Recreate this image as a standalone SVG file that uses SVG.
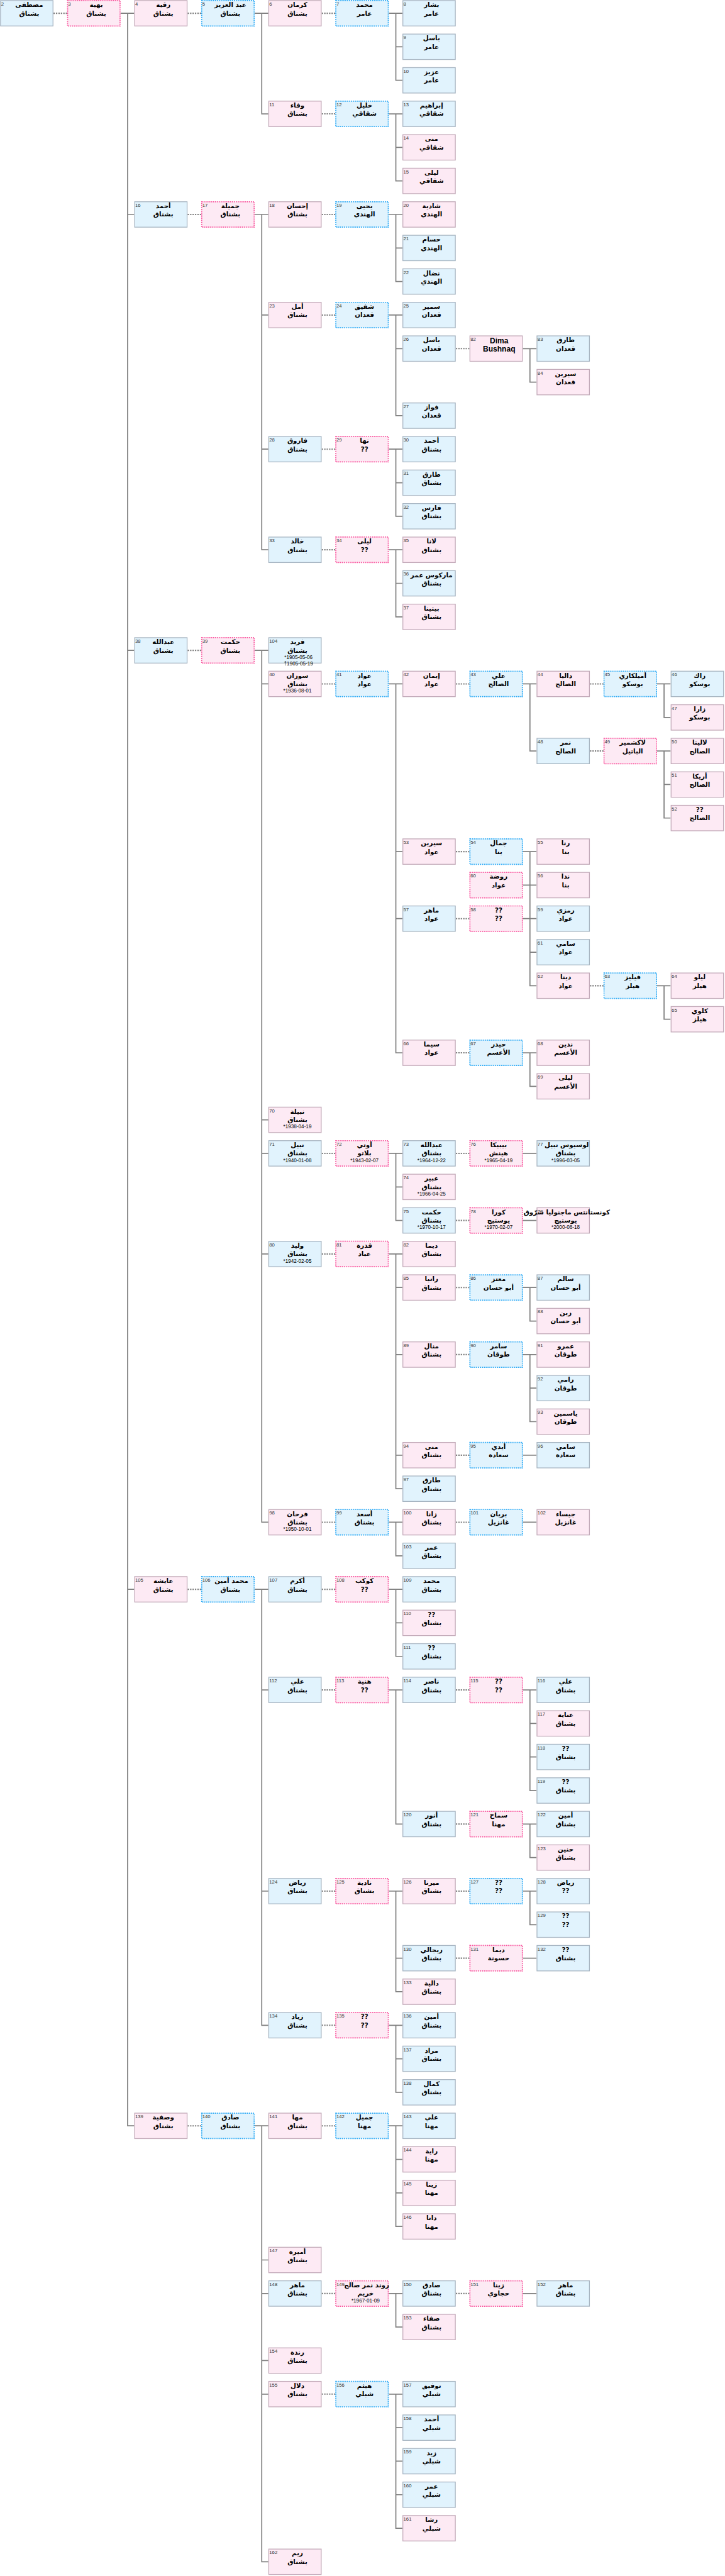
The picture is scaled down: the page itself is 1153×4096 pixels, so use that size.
<svg xmlns="http://www.w3.org/2000/svg" width="1153" height="4096" viewBox="0 0 1153 4096">
<defs>
<style>
.b{fill:#e1f3fd;stroke:#a7b5c2;stroke-width:1.5}
.p{fill:#fdeaf4;stroke:#c3aab9;stroke-width:1.5}
.bd{fill:#e1f3fd;stroke:#2aa9f5;stroke-width:2;stroke-dasharray:2 1.5}
.pd{fill:#fdeaf4;stroke:#f9579f;stroke-width:2;stroke-dasharray:2 1.5}
.ln{fill:none;stroke:#808080;stroke-width:2}
.sp{fill:none;stroke:#808080;stroke-width:2.5;stroke-dasharray:2.5 2}
.id{font-family:"Liberation Sans",sans-serif;font-size:9px;fill:#333}
.nm{font-family:"DejaVu Sans","Liberation Sans",sans-serif;font-weight:bold;font-size:12px;text-anchor:middle;fill:#000}
.en{font-family:"Liberation Sans",sans-serif;font-weight:bold;font-size:14px;text-anchor:middle;fill:#000}
.dt{font-family:"Liberation Sans","DejaVu Sans",sans-serif;font-size:9.5px;text-anchor:middle;fill:#000}
</style>
</defs>
<rect width="1153" height="4096" fill="#fff"/>
<g transform="scale(0.86)">
<g id="connectors">
<path class="sp" d="M99 24.5H124M347 24.5H372M595 24.5H620M595 210.5H620M347 396.5H372M595 396.5H620M595 582.5H620M843 644.5H868M595 830.5H620M595 1016.5H620M347 1202.5H372M595 1264.5H620M843 1264.5H868M1091 1264.5H1116M1091 1388.5H1116M843 1574.5H868M843 1698.5H868M1091 1822.5H1116M843 1946.5H868M595 2132.5H620M843 2132.5H868M843 2256.5H868M595 2318.5H620M843 2380.5H868M843 2504.5H868M843 2690.5H868M595 2814.5H620M843 2814.5H868M347 2938.5H372M595 2938.5H620M595 3124.5H620M843 3124.5H868M843 3372.5H868M595 3496.5H620M843 3496.5H868M843 3620.5H868M595 3744.5H620M347 3930.5H372M595 3930.5H620M595 4240.5H620M843 4240.5H868M595 4426.5H620"/>
<path class="ln" d="M223 24.5H248M236 24.5V3930.5H248M236 396.5H248M236 1202.5H248M236 2938.5H248"/>
<path class="ln" d="M471 24.5H496M484 24.5V210.5H496"/>
<path class="ln" d="M719 24.5H744M732 24.5V148.5H744M732 86.5H744"/>
<path class="ln" d="M719 210.5H744M732 210.5V334.5H744M732 272.5H744"/>
<path class="ln" d="M471 396.5H496M484 396.5V1016.5H496M484 582.5H496M484 830.5H496"/>
<path class="ln" d="M719 396.5H744M732 396.5V520.5H744M732 458.5H744"/>
<path class="ln" d="M719 582.5H744M732 582.5V768.5H744M732 644.5H744"/>
<path class="ln" d="M967 644.5H992M980 644.5V706.5H992"/>
<path class="ln" d="M719 830.5H744M732 830.5V954.5H744M732 892.5H744"/>
<path class="ln" d="M719 1016.5H744M732 1016.5V1140.5H744M732 1078.5H744"/>
<path class="ln" d="M471 1202.5H496M484 1202.5V2814.5H496M484 1264.5H496M484 2070.5H496M484 2132.5H496M484 2318.5H496"/>
<path class="ln" d="M719 1264.5H744M732 1264.5V1946.5H744M732 1574.5H744M732 1698.5H744"/>
<path class="ln" d="M967 1264.5H992M980 1264.5V1388.5H992"/>
<path class="ln" d="M1215 1264.5H1240M1228 1264.5V1326.5H1240"/>
<path class="ln" d="M1215 1388.5H1240M1228 1388.5V1512.5H1240M1228 1450.5H1240"/>
<path class="ln" d="M967 1574.5H992M980 1574.5V1822.5H992M967 1636.5H992M967 1698.5H992M980 1760.5H992"/>
<path class="ln" d="M1215 1822.5H1240M1228 1822.5V1884.5H1240"/>
<path class="ln" d="M967 1946.5H992M980 1946.5V2008.5H992"/>
<path class="ln" d="M719 2132.5H744M732 2132.5V2256.5H744M732 2194.5H744"/>
<path class="ln" d="M967 2132.5H992M967 2256.5H992"/>
<path class="ln" d="M719 2318.5H744M732 2318.5V2752.5H744M732 2380.5H744M732 2504.5H744M732 2690.5H744"/>
<path class="ln" d="M967 2380.5H992M980 2380.5V2442.5H992"/>
<path class="ln" d="M967 2504.5H992M980 2504.5V2628.5H992M980 2566.5H992"/>
<path class="ln" d="M967 2690.5H992"/>
<path class="ln" d="M719 2814.5H744M732 2814.5V2876.5H744M967 2814.5H992"/>
<path class="ln" d="M471 2938.5H496M484 2938.5V3744.5H496M484 3124.5H496M484 3496.5H496"/>
<path class="ln" d="M719 2938.5H744M732 2938.5V3062.5H744M732 3000.5H744"/>
<path class="ln" d="M719 3124.5H744M732 3124.5V3372.5H744"/>
<path class="ln" d="M967 3124.5H992M980 3124.5V3310.5H992M980 3186.5H992M980 3248.5H992"/>
<path class="ln" d="M967 3372.5H992M980 3372.5V3434.5H992"/>
<path class="ln" d="M719 3496.5H744M732 3496.5V3682.5H744M732 3620.5H744"/>
<path class="ln" d="M967 3496.5H992M980 3496.5V3558.5H992M967 3620.5H992"/>
<path class="ln" d="M719 3744.5H744M732 3744.5V3868.5H744M732 3806.5H744"/>
<path class="ln" d="M471 3930.5H496M484 3930.5V4736.5H496M484 4178.5H496M484 4240.5H496M484 4364.5H496M484 4426.5H496"/>
<path class="ln" d="M719 3930.5H744M732 3930.5V4116.5H744M732 3992.5H744M732 4054.5H744"/>
<path class="ln" d="M719 4240.5H744M732 4240.5V4302.5H744M967 4240.5H992"/>
<path class="ln" d="M719 4426.5H744M732 4426.5V4674.5H744M732 4488.5H744M732 4550.5H744M732 4612.5H744"/>
</g>
<g id="n2" transform="translate(0,0)"><rect class="b" x="1" y="1" width="97" height="47"/><text class="id" x="2" y="10.5">2</text><text class="nm" x="54" y="13">مصطفى</text><text class="nm" x="54" y="28.5">بشناق</text></g>
<g id="n3" transform="translate(124,0)"><rect class="pd" x="1" y="1" width="97" height="47"/><text class="id" x="2" y="10.5">3</text><text class="nm" x="54" y="13">بهية</text><text class="nm" x="54" y="28.5">بشناق</text></g>
<g id="n4" transform="translate(248,0)"><rect class="p" x="1" y="1" width="97" height="47"/><text class="id" x="2" y="10.5">4</text><text class="nm" x="54" y="13">رقية</text><text class="nm" x="54" y="28.5">بشناق</text></g>
<g id="n5" transform="translate(372,0)"><rect class="bd" x="1" y="1" width="97" height="47"/><text class="id" x="2" y="10.5">5</text><text class="nm" x="54" y="13">عبد العزيز</text><text class="nm" x="54" y="28.5">بشناق</text></g>
<g id="n6" transform="translate(496,0)"><rect class="p" x="1" y="1" width="97" height="47"/><text class="id" x="2" y="10.5">6</text><text class="nm" x="54" y="13">كرمان</text><text class="nm" x="54" y="28.5">بشناق</text></g>
<g id="n7" transform="translate(620,0)"><rect class="bd" x="1" y="1" width="97" height="47"/><text class="id" x="2" y="10.5">7</text><text class="nm" x="54" y="13">محمد</text><text class="nm" x="54" y="28.5">عامر</text></g>
<g id="n8" transform="translate(744,0)"><rect class="b" x="1" y="1" width="97" height="47"/><text class="id" x="2" y="10.5">8</text><text class="nm" x="54" y="13">بشار</text><text class="nm" x="54" y="28.5">عامر</text></g>
<g id="n9" transform="translate(744,62)"><rect class="b" x="1" y="1" width="97" height="47"/><text class="id" x="2" y="10.5">9</text><text class="nm" x="54" y="13">باسل</text><text class="nm" x="54" y="28.5">عامر</text></g>
<g id="n10" transform="translate(744,124)"><rect class="b" x="1" y="1" width="97" height="47"/><text class="id" x="2" y="10.5">10</text><text class="nm" x="54" y="13">عزيز</text><text class="nm" x="54" y="28.5">عامر</text></g>
<g id="n11" transform="translate(496,186)"><rect class="p" x="1" y="1" width="97" height="47"/><text class="id" x="2" y="10.5">11</text><text class="nm" x="54" y="13">وفاء</text><text class="nm" x="54" y="28.5">بشناق</text></g>
<g id="n12" transform="translate(620,186)"><rect class="bd" x="1" y="1" width="97" height="47"/><text class="id" x="2" y="10.5">12</text><text class="nm" x="54" y="13">خليل</text><text class="nm" x="54" y="28.5">شقاقي</text></g>
<g id="n13" transform="translate(744,186)"><rect class="b" x="1" y="1" width="97" height="47"/><text class="id" x="2" y="10.5">13</text><text class="nm" x="54" y="13">إبراهيم</text><text class="nm" x="54" y="28.5">شقاقي</text></g>
<g id="n14" transform="translate(744,248)"><rect class="p" x="1" y="1" width="97" height="47"/><text class="id" x="2" y="10.5">14</text><text class="nm" x="54" y="13">منى</text><text class="nm" x="54" y="28.5">شقاقي</text></g>
<g id="n15" transform="translate(744,310)"><rect class="p" x="1" y="1" width="97" height="47"/><text class="id" x="2" y="10.5">15</text><text class="nm" x="54" y="13">ليلى</text><text class="nm" x="54" y="28.5">شقاقي</text></g>
<g id="n16" transform="translate(248,372)"><rect class="b" x="1" y="1" width="97" height="47"/><text class="id" x="2" y="10.5">16</text><text class="nm" x="54" y="13">أحمد</text><text class="nm" x="54" y="28.5">بشناق</text></g>
<g id="n17" transform="translate(372,372)"><rect class="pd" x="1" y="1" width="97" height="47"/><text class="id" x="2" y="10.5">17</text><text class="nm" x="54" y="13">جميلة</text><text class="nm" x="54" y="28.5">بشناق</text></g>
<g id="n18" transform="translate(496,372)"><rect class="p" x="1" y="1" width="97" height="47"/><text class="id" x="2" y="10.5">18</text><text class="nm" x="54" y="13">إحسان</text><text class="nm" x="54" y="28.5">بشناق</text></g>
<g id="n19" transform="translate(620,372)"><rect class="bd" x="1" y="1" width="97" height="47"/><text class="id" x="2" y="10.5">19</text><text class="nm" x="54" y="13">يحيى</text><text class="nm" x="54" y="28.5">الهندي</text></g>
<g id="n20" transform="translate(744,372)"><rect class="p" x="1" y="1" width="97" height="47"/><text class="id" x="2" y="10.5">20</text><text class="nm" x="54" y="13">شادية</text><text class="nm" x="54" y="28.5">الهندي</text></g>
<g id="n21" transform="translate(744,434)"><rect class="b" x="1" y="1" width="97" height="47"/><text class="id" x="2" y="10.5">21</text><text class="nm" x="54" y="13">حسام</text><text class="nm" x="54" y="28.5">الهندي</text></g>
<g id="n22" transform="translate(744,496)"><rect class="b" x="1" y="1" width="97" height="47"/><text class="id" x="2" y="10.5">22</text><text class="nm" x="54" y="13">نضال</text><text class="nm" x="54" y="28.5">الهندي</text></g>
<g id="n23" transform="translate(496,558)"><rect class="p" x="1" y="1" width="97" height="47"/><text class="id" x="2" y="10.5">23</text><text class="nm" x="54" y="13">أمل</text><text class="nm" x="54" y="28.5">بشناق</text></g>
<g id="n24" transform="translate(620,558)"><rect class="bd" x="1" y="1" width="97" height="47"/><text class="id" x="2" y="10.5">24</text><text class="nm" x="54" y="13">شفيق</text><text class="nm" x="54" y="28.5">قعدان</text></g>
<g id="n25" transform="translate(744,558)"><rect class="b" x="1" y="1" width="97" height="47"/><text class="id" x="2" y="10.5">25</text><text class="nm" x="54" y="13">سمير</text><text class="nm" x="54" y="28.5">قعدان</text></g>
<g id="n26" transform="translate(744,620)"><rect class="b" x="1" y="1" width="97" height="47"/><text class="id" x="2" y="10.5">26</text><text class="nm" x="54" y="13">باسل</text><text class="nm" x="54" y="28.5">قعدان</text></g>
<g id="n82-dima" transform="translate(868,620)"><rect class="p" x="1" y="1" width="97" height="47"/><text class="id" x="2" y="10.5">82</text><text class="en" x="55" y="15">Dima</text><text class="en" x="55" y="30">Bushnaq</text></g>
<g id="n83" transform="translate(992,620)"><rect class="b" x="1" y="1" width="97" height="47"/><text class="id" x="2" y="10.5">83</text><text class="nm" x="54" y="13">طارق</text><text class="nm" x="54" y="28.5">قعدان</text></g>
<g id="n84" transform="translate(992,682)"><rect class="p" x="1" y="1" width="97" height="47"/><text class="id" x="2" y="10.5">84</text><text class="nm" x="54" y="13">سيرين</text><text class="nm" x="54" y="28.5">قعدان</text></g>
<g id="n27" transform="translate(744,744)"><rect class="b" x="1" y="1" width="97" height="47"/><text class="id" x="2" y="10.5">27</text><text class="nm" x="54" y="13">فواز</text><text class="nm" x="54" y="28.5">قعدان</text></g>
<g id="n28" transform="translate(496,806)"><rect class="b" x="1" y="1" width="97" height="47"/><text class="id" x="2" y="10.5">28</text><text class="nm" x="54" y="13">فاروق</text><text class="nm" x="54" y="28.5">بشناق</text></g>
<g id="n29" transform="translate(620,806)"><rect class="pd" x="1" y="1" width="97" height="47"/><text class="id" x="2" y="10.5">29</text><text class="nm" x="54" y="13">نها</text><text class="nm" x="54" y="28.5">??</text></g>
<g id="n30" transform="translate(744,806)"><rect class="b" x="1" y="1" width="97" height="47"/><text class="id" x="2" y="10.5">30</text><text class="nm" x="54" y="13">أحمد</text><text class="nm" x="54" y="28.5">بشناق</text></g>
<g id="n31" transform="translate(744,868)"><rect class="b" x="1" y="1" width="97" height="47"/><text class="id" x="2" y="10.5">31</text><text class="nm" x="54" y="13">طارق</text><text class="nm" x="54" y="28.5">بشناق</text></g>
<g id="n32" transform="translate(744,930)"><rect class="b" x="1" y="1" width="97" height="47"/><text class="id" x="2" y="10.5">32</text><text class="nm" x="54" y="13">فارس</text><text class="nm" x="54" y="28.5">بشناق</text></g>
<g id="n33" transform="translate(496,992)"><rect class="b" x="1" y="1" width="97" height="47"/><text class="id" x="2" y="10.5">33</text><text class="nm" x="54" y="13">خالد</text><text class="nm" x="54" y="28.5">بشناق</text></g>
<g id="n34" transform="translate(620,992)"><rect class="pd" x="1" y="1" width="97" height="47"/><text class="id" x="2" y="10.5">34</text><text class="nm" x="54" y="13">ليلى</text><text class="nm" x="54" y="28.5">??</text></g>
<g id="n35" transform="translate(744,992)"><rect class="p" x="1" y="1" width="97" height="47"/><text class="id" x="2" y="10.5">35</text><text class="nm" x="54" y="13">لانا</text><text class="nm" x="54" y="28.5">بشناق</text></g>
<g id="n36" transform="translate(744,1054)"><rect class="b" x="1" y="1" width="97" height="47"/><text class="id" x="2" y="10.5">36</text><text class="nm" x="54" y="13">ماركوس عمر</text><text class="nm" x="54" y="28.5">بشناق</text></g>
<g id="n37" transform="translate(744,1116)"><rect class="p" x="1" y="1" width="97" height="47"/><text class="id" x="2" y="10.5">37</text><text class="nm" x="54" y="13">بيتينا</text><text class="nm" x="54" y="28.5">بشناق</text></g>
<g id="n38" transform="translate(248,1178)"><rect class="b" x="1" y="1" width="97" height="47"/><text class="id" x="2" y="10.5">38</text><text class="nm" x="54" y="13">عبدالله</text><text class="nm" x="54" y="28.5">بشناق</text></g>
<g id="n39" transform="translate(372,1178)"><rect class="pd" x="1" y="1" width="97" height="47"/><text class="id" x="2" y="10.5">39</text><text class="nm" x="54" y="13">حكمت</text><text class="nm" x="54" y="28.5">بشناق</text></g>
<g id="n104" transform="translate(496,1178)"><rect class="b" x="1" y="1" width="97" height="47"/><text class="id" x="2" y="10.5">104</text><text class="nm" x="54" y="13">فريد</text><text class="nm" x="54" y="28.5">بشناق</text><text class="dt" x="56" y="40.5">*1905-05-06</text><text class="dt" x="56" y="52">†1905-05-19</text></g>
<g id="n40" transform="translate(496,1240)"><rect class="p" x="1" y="1" width="97" height="47"/><text class="id" x="2" y="10.5">40</text><text class="nm" x="54" y="13">سوزان</text><text class="nm" x="54" y="28.5">بشناق</text><text class="dt" x="54" y="40.5">*1936-08-01</text></g>
<g id="n41" transform="translate(620,1240)"><rect class="bd" x="1" y="1" width="97" height="47"/><text class="id" x="2" y="10.5">41</text><text class="nm" x="54" y="13">عواد</text><text class="nm" x="54" y="28.5">عواد</text></g>
<g id="n42" transform="translate(744,1240)"><rect class="p" x="1" y="1" width="97" height="47"/><text class="id" x="2" y="10.5">42</text><text class="nm" x="54" y="13">إيمان</text><text class="nm" x="54" y="28.5">عواد</text></g>
<g id="n43" transform="translate(868,1240)"><rect class="bd" x="1" y="1" width="97" height="47"/><text class="id" x="2" y="10.5">43</text><text class="nm" x="54" y="13">علي</text><text class="nm" x="54" y="28.5">الصالح</text></g>
<g id="n44" transform="translate(992,1240)"><rect class="p" x="1" y="1" width="97" height="47"/><text class="id" x="2" y="10.5">44</text><text class="nm" x="54" y="13">داليا</text><text class="nm" x="54" y="28.5">الصالح</text></g>
<g id="n45" transform="translate(1116,1240)"><rect class="bd" x="1" y="1" width="97" height="47"/><text class="id" x="2" y="10.5">45</text><text class="nm" x="54" y="13">أميلكاري</text><text class="nm" x="54" y="28.5">بوسكو</text></g>
<g id="n46" transform="translate(1240,1240)"><rect class="b" x="1" y="1" width="97" height="47"/><text class="id" x="2" y="10.5">46</text><text class="nm" x="54" y="13">زاك</text><text class="nm" x="54" y="28.5">بوسكو</text></g>
<g id="n47" transform="translate(1240,1302)"><rect class="p" x="1" y="1" width="97" height="47"/><text class="id" x="2" y="10.5">47</text><text class="nm" x="54" y="13">زارا</text><text class="nm" x="54" y="28.5">بوسكو</text></g>
<g id="n48" transform="translate(992,1364)"><rect class="b" x="1" y="1" width="97" height="47"/><text class="id" x="2" y="10.5">48</text><text class="nm" x="54" y="13">نمر</text><text class="nm" x="54" y="28.5">الصالح</text></g>
<g id="n49" transform="translate(1116,1364)"><rect class="pd" x="1" y="1" width="97" height="47"/><text class="id" x="2" y="10.5">49</text><text class="nm" x="54" y="13">لاكشمير</text><text class="nm" x="54" y="28.5">الباتيل</text></g>
<g id="n50" transform="translate(1240,1364)"><rect class="p" x="1" y="1" width="97" height="47"/><text class="id" x="2" y="10.5">50</text><text class="nm" x="54" y="13">لاليتا</text><text class="nm" x="54" y="28.5">الصالح</text></g>
<g id="n51" transform="translate(1240,1426)"><rect class="p" x="1" y="1" width="97" height="47"/><text class="id" x="2" y="10.5">51</text><text class="nm" x="54" y="13">أريكا</text><text class="nm" x="54" y="28.5">الصالح</text></g>
<g id="n52" transform="translate(1240,1488)"><rect class="p" x="1" y="1" width="97" height="47"/><text class="id" x="2" y="10.5">52</text><text class="nm" x="54" y="13">??</text><text class="nm" x="54" y="28.5">الصالح</text></g>
<g id="n53" transform="translate(744,1550)"><rect class="p" x="1" y="1" width="97" height="47"/><text class="id" x="2" y="10.5">53</text><text class="nm" x="54" y="13">سيرين</text><text class="nm" x="54" y="28.5">عواد</text></g>
<g id="n54" transform="translate(868,1550)"><rect class="bd" x="1" y="1" width="97" height="47"/><text class="id" x="2" y="10.5">54</text><text class="nm" x="54" y="13">جمال</text><text class="nm" x="54" y="28.5">بنا</text></g>
<g id="n55" transform="translate(992,1550)"><rect class="p" x="1" y="1" width="97" height="47"/><text class="id" x="2" y="10.5">55</text><text class="nm" x="54" y="13">رنا</text><text class="nm" x="54" y="28.5">بنا</text></g>
<g id="n60" transform="translate(868,1612)"><rect class="pd" x="1" y="1" width="97" height="47"/><text class="id" x="2" y="10.5">60</text><text class="nm" x="54" y="13">روضة</text><text class="nm" x="54" y="28.5">عواد</text></g>
<g id="n56" transform="translate(992,1612)"><rect class="p" x="1" y="1" width="97" height="47"/><text class="id" x="2" y="10.5">56</text><text class="nm" x="54" y="13">ندا</text><text class="nm" x="54" y="28.5">بنا</text></g>
<g id="n57" transform="translate(744,1674)"><rect class="b" x="1" y="1" width="97" height="47"/><text class="id" x="2" y="10.5">57</text><text class="nm" x="54" y="13">ماهر</text><text class="nm" x="54" y="28.5">عواد</text></g>
<g id="n58" transform="translate(868,1674)"><rect class="pd" x="1" y="1" width="97" height="47"/><text class="id" x="2" y="10.5">58</text><text class="nm" x="54" y="13">??</text><text class="nm" x="54" y="28.5">??</text></g>
<g id="n59" transform="translate(992,1674)"><rect class="b" x="1" y="1" width="97" height="47"/><text class="id" x="2" y="10.5">59</text><text class="nm" x="54" y="13">رمزي</text><text class="nm" x="54" y="28.5">عواد</text></g>
<g id="n61" transform="translate(992,1736)"><rect class="b" x="1" y="1" width="97" height="47"/><text class="id" x="2" y="10.5">61</text><text class="nm" x="54" y="13">سامي</text><text class="nm" x="54" y="28.5">عواد</text></g>
<g id="n62" transform="translate(992,1798)"><rect class="p" x="1" y="1" width="97" height="47"/><text class="id" x="2" y="10.5">62</text><text class="nm" x="54" y="13">دينا</text><text class="nm" x="54" y="28.5">عواد</text></g>
<g id="n63" transform="translate(1116,1798)"><rect class="bd" x="1" y="1" width="97" height="47"/><text class="id" x="2" y="10.5">63</text><text class="nm" x="54" y="13">فيليز</text><text class="nm" x="54" y="28.5">هيلز</text></g>
<g id="n64" transform="translate(1240,1798)"><rect class="p" x="1" y="1" width="97" height="47"/><text class="id" x="2" y="10.5">64</text><text class="nm" x="54" y="13">ليلو</text><text class="nm" x="54" y="28.5">هيلز</text></g>
<g id="n65" transform="translate(1240,1860)"><rect class="p" x="1" y="1" width="97" height="47"/><text class="id" x="2" y="10.5">65</text><text class="nm" x="54" y="13">كلوي</text><text class="nm" x="54" y="28.5">هيلز</text></g>
<g id="n66" transform="translate(744,1922)"><rect class="p" x="1" y="1" width="97" height="47"/><text class="id" x="2" y="10.5">66</text><text class="nm" x="54" y="13">سيما</text><text class="nm" x="54" y="28.5">عواد</text></g>
<g id="n67" transform="translate(868,1922)"><rect class="bd" x="1" y="1" width="97" height="47"/><text class="id" x="2" y="10.5">67</text><text class="nm" x="54" y="13">حيدر</text><text class="nm" x="54" y="28.5">الأعسم</text></g>
<g id="n68" transform="translate(992,1922)"><rect class="p" x="1" y="1" width="97" height="47"/><text class="id" x="2" y="10.5">68</text><text class="nm" x="54" y="13">ندين</text><text class="nm" x="54" y="28.5">الأعسم</text></g>
<g id="n69" transform="translate(992,1984)"><rect class="p" x="1" y="1" width="97" height="47"/><text class="id" x="2" y="10.5">69</text><text class="nm" x="54" y="13">ليلى</text><text class="nm" x="54" y="28.5">الأعسم</text></g>
<g id="n70" transform="translate(496,2046)"><rect class="p" x="1" y="1" width="97" height="47"/><text class="id" x="2" y="10.5">70</text><text class="nm" x="54" y="13">نبيلة</text><text class="nm" x="54" y="28.5">بشناق</text><text class="dt" x="54" y="40.5">*1938-04-19</text></g>
<g id="n71" transform="translate(496,2108)"><rect class="b" x="1" y="1" width="97" height="47"/><text class="id" x="2" y="10.5">71</text><text class="nm" x="54" y="13">نبيل</text><text class="nm" x="54" y="28.5">بشناق</text><text class="dt" x="54" y="40.5">*1940-01-08</text></g>
<g id="n72" transform="translate(620,2108)"><rect class="pd" x="1" y="1" width="97" height="47"/><text class="id" x="2" y="10.5">72</text><text class="nm" x="54" y="13">أوتي</text><text class="nm" x="54" y="28.5">بلاتو</text><text class="dt" x="54" y="40.5">*1943-02-07</text></g>
<g id="n73" transform="translate(744,2108)"><rect class="b" x="1" y="1" width="97" height="47"/><text class="id" x="2" y="10.5">73</text><text class="nm" x="54" y="13">عبدالله</text><text class="nm" x="54" y="28.5">بشناق</text><text class="dt" x="54" y="40.5">*1964-12-22</text></g>
<g id="n76" transform="translate(868,2108)"><rect class="pd" x="1" y="1" width="97" height="47"/><text class="id" x="2" y="10.5">76</text><text class="nm" x="54" y="13">بيبيكا</text><text class="nm" x="54" y="28.5">هينش</text><text class="dt" x="54" y="40.5">*1965-04-19</text></g>
<g id="n77" transform="translate(992,2108)"><rect class="b" x="1" y="1" width="97" height="47"/><text class="id" x="2" y="10.5">77</text><text class="nm" x="56" y="13">لوسيوس نبيل</text><text class="nm" x="54" y="28.5">بشناق</text><text class="dt" x="54" y="40.5">*1996-03-05</text></g>
<g id="n74" transform="translate(744,2170)"><rect class="p" x="1" y="1" width="97" height="47"/><text class="id" x="2" y="10.5">74</text><text class="nm" x="54" y="13">عبير</text><text class="nm" x="54" y="28.5">بشناق</text><text class="dt" x="54" y="40.5">*1966-04-25</text></g>
<g id="n75" transform="translate(744,2232)"><rect class="b" x="1" y="1" width="97" height="47"/><text class="id" x="2" y="10.5">75</text><text class="nm" x="54" y="13">حكمت</text><text class="nm" x="54" y="28.5">بشناق</text><text class="dt" x="54" y="40.5">*1970-10-17</text></g>
<g id="n78" transform="translate(868,2232)"><rect class="pd" x="1" y="1" width="97" height="47"/><text class="id" x="2" y="10.5">78</text><text class="nm" x="54" y="13">كورا</text><text class="nm" x="54" y="28.5">يوستيج</text><text class="dt" x="54" y="40.5">*1970-02-07</text></g>
<g id="n79" transform="translate(992,2232)"><rect class="p" x="1" y="1" width="97" height="47"/><text class="nm" x="56" y="13">كونستانتس ماجنوليا شرّوق</text><text class="id" x="2" y="10.5">79</text><text class="nm" x="54" y="28.5">يوستيج</text><text class="dt" x="54" y="40.5">*2000-08-18</text></g>
<g id="n80" transform="translate(496,2294)"><rect class="b" x="1" y="1" width="97" height="47"/><text class="id" x="2" y="10.5">80</text><text class="nm" x="54" y="13">وليد</text><text class="nm" x="54" y="28.5">بشناق</text><text class="dt" x="54" y="40.5">*1942-02-05</text></g>
<g id="n81" transform="translate(620,2294)"><rect class="pd" x="1" y="1" width="97" height="47"/><text class="id" x="2" y="10.5">81</text><text class="nm" x="54" y="13">قدرة</text><text class="nm" x="54" y="28.5">عباد</text></g>
<g id="n82" transform="translate(744,2294)"><rect class="p" x="1" y="1" width="97" height="47"/><text class="id" x="2" y="10.5">82</text><text class="nm" x="54" y="13">ديما</text><text class="nm" x="54" y="28.5">بشناق</text></g>
<g id="n85" transform="translate(744,2356)"><rect class="p" x="1" y="1" width="97" height="47"/><text class="id" x="2" y="10.5">85</text><text class="nm" x="54" y="13">رانيا</text><text class="nm" x="54" y="28.5">بشناق</text></g>
<g id="n86" transform="translate(868,2356)"><rect class="bd" x="1" y="1" width="97" height="47"/><text class="id" x="2" y="10.5">86</text><text class="nm" x="54" y="13">معتز</text><text class="nm" x="54" y="28.5">أبو حسان</text></g>
<g id="n87" transform="translate(992,2356)"><rect class="b" x="1" y="1" width="97" height="47"/><text class="id" x="2" y="10.5">87</text><text class="nm" x="54" y="13">سالم</text><text class="nm" x="54" y="28.5">أبو حسان</text></g>
<g id="n88" transform="translate(992,2418)"><rect class="p" x="1" y="1" width="97" height="47"/><text class="id" x="2" y="10.5">88</text><text class="nm" x="54" y="13">زين</text><text class="nm" x="54" y="28.5">أبو حسان</text></g>
<g id="n89" transform="translate(744,2480)"><rect class="p" x="1" y="1" width="97" height="47"/><text class="id" x="2" y="10.5">89</text><text class="nm" x="54" y="13">منال</text><text class="nm" x="54" y="28.5">بشناق</text></g>
<g id="n90" transform="translate(868,2480)"><rect class="bd" x="1" y="1" width="97" height="47"/><text class="id" x="2" y="10.5">90</text><text class="nm" x="54" y="13">سامر</text><text class="nm" x="54" y="28.5">طوقان</text></g>
<g id="n91" transform="translate(992,2480)"><rect class="p" x="1" y="1" width="97" height="47"/><text class="id" x="2" y="10.5">91</text><text class="nm" x="54" y="13">عمرو</text><text class="nm" x="54" y="28.5">طوقان</text></g>
<g id="n92" transform="translate(992,2542)"><rect class="b" x="1" y="1" width="97" height="47"/><text class="id" x="2" y="10.5">92</text><text class="nm" x="54" y="13">رامي</text><text class="nm" x="54" y="28.5">طوقان</text></g>
<g id="n93" transform="translate(992,2604)"><rect class="p" x="1" y="1" width="97" height="47"/><text class="id" x="2" y="10.5">93</text><text class="nm" x="54" y="13">ياسمين</text><text class="nm" x="54" y="28.5">طوقان</text></g>
<g id="n94" transform="translate(744,2666)"><rect class="p" x="1" y="1" width="97" height="47"/><text class="id" x="2" y="10.5">94</text><text class="nm" x="54" y="13">منى</text><text class="nm" x="54" y="28.5">بشناق</text></g>
<g id="n95" transform="translate(868,2666)"><rect class="bd" x="1" y="1" width="97" height="47"/><text class="id" x="2" y="10.5">95</text><text class="nm" x="54" y="13">أيدي</text><text class="nm" x="54" y="28.5">سعادة</text></g>
<g id="n96" transform="translate(992,2666)"><rect class="b" x="1" y="1" width="97" height="47"/><text class="id" x="2" y="10.5">96</text><text class="nm" x="54" y="13">سامي</text><text class="nm" x="54" y="28.5">سعادة</text></g>
<g id="n97" transform="translate(744,2728)"><rect class="b" x="1" y="1" width="97" height="47"/><text class="id" x="2" y="10.5">97</text><text class="nm" x="54" y="13">طارق</text><text class="nm" x="54" y="28.5">بشناق</text></g>
<g id="n98" transform="translate(496,2790)"><rect class="p" x="1" y="1" width="97" height="47"/><text class="id" x="2" y="10.5">98</text><text class="nm" x="54" y="13">فرحان</text><text class="nm" x="54" y="28.5">بشناق</text><text class="dt" x="54" y="40.5">*1950-10-01</text></g>
<g id="n99" transform="translate(620,2790)"><rect class="bd" x="1" y="1" width="97" height="47"/><text class="id" x="2" y="10.5">99</text><text class="nm" x="54" y="13">أسعد</text><text class="nm" x="54" y="28.5">بشناق</text></g>
<g id="n100" transform="translate(744,2790)"><rect class="p" x="1" y="1" width="97" height="47"/><text class="id" x="2" y="10.5">100</text><text class="nm" x="54" y="13">زانا</text><text class="nm" x="54" y="28.5">بشناق</text></g>
<g id="n101" transform="translate(868,2790)"><rect class="bd" x="1" y="1" width="97" height="47"/><text class="id" x="2" y="10.5">101</text><text class="nm" x="54" y="13">بريان</text><text class="nm" x="54" y="28.5">غانزيل</text></g>
<g id="n102" transform="translate(992,2790)"><rect class="p" x="1" y="1" width="97" height="47"/><text class="id" x="2" y="10.5">102</text><text class="nm" x="54" y="13">جيساء</text><text class="nm" x="54" y="28.5">غانزيل</text></g>
<g id="n103" transform="translate(744,2852)"><rect class="b" x="1" y="1" width="97" height="47"/><text class="id" x="2" y="10.5">103</text><text class="nm" x="54" y="13">عمر</text><text class="nm" x="54" y="28.5">بشناق</text></g>
<g id="n105" transform="translate(248,2914)"><rect class="p" x="1" y="1" width="97" height="47"/><text class="id" x="2" y="10.5">105</text><text class="nm" x="54" y="13">عايشة</text><text class="nm" x="54" y="28.5">بشناق</text></g>
<g id="n106" transform="translate(372,2914)"><rect class="bd" x="1" y="1" width="97" height="47"/><text class="id" x="2" y="10.5">106</text><text class="nm" x="56" y="13">محمد أمين</text><text class="nm" x="54" y="28.5">بشناق</text></g>
<g id="n107" transform="translate(496,2914)"><rect class="b" x="1" y="1" width="97" height="47"/><text class="id" x="2" y="10.5">107</text><text class="nm" x="54" y="13">أكرم</text><text class="nm" x="54" y="28.5">بشناق</text></g>
<g id="n108" transform="translate(620,2914)"><rect class="pd" x="1" y="1" width="97" height="47"/><text class="id" x="2" y="10.5">108</text><text class="nm" x="54" y="13">كوكب</text><text class="nm" x="54" y="28.5">??</text></g>
<g id="n109" transform="translate(744,2914)"><rect class="b" x="1" y="1" width="97" height="47"/><text class="id" x="2" y="10.5">109</text><text class="nm" x="54" y="13">محمد</text><text class="nm" x="54" y="28.5">بشناق</text></g>
<g id="n110" transform="translate(744,2976)"><rect class="p" x="1" y="1" width="97" height="47"/><text class="id" x="2" y="10.5">110</text><text class="nm" x="54" y="13">??</text><text class="nm" x="54" y="28.5">بشناق</text></g>
<g id="n111" transform="translate(744,3038)"><rect class="b" x="1" y="1" width="97" height="47"/><text class="id" x="2" y="10.5">111</text><text class="nm" x="54" y="13">??</text><text class="nm" x="54" y="28.5">بشناق</text></g>
<g id="n112" transform="translate(496,3100)"><rect class="b" x="1" y="1" width="97" height="47"/><text class="id" x="2" y="10.5">112</text><text class="nm" x="54" y="13">علي</text><text class="nm" x="54" y="28.5">بشناق</text></g>
<g id="n113" transform="translate(620,3100)"><rect class="pd" x="1" y="1" width="97" height="47"/><text class="id" x="2" y="10.5">113</text><text class="nm" x="54" y="13">هنية</text><text class="nm" x="54" y="28.5">??</text></g>
<g id="n114" transform="translate(744,3100)"><rect class="b" x="1" y="1" width="97" height="47"/><text class="id" x="2" y="10.5">114</text><text class="nm" x="54" y="13">ناصر</text><text class="nm" x="54" y="28.5">بشناق</text></g>
<g id="n115" transform="translate(868,3100)"><rect class="pd" x="1" y="1" width="97" height="47"/><text class="id" x="2" y="10.5">115</text><text class="nm" x="54" y="13">??</text><text class="nm" x="54" y="28.5">??</text></g>
<g id="n116" transform="translate(992,3100)"><rect class="b" x="1" y="1" width="97" height="47"/><text class="id" x="2" y="10.5">116</text><text class="nm" x="54" y="13">علي</text><text class="nm" x="54" y="28.5">بشناق</text></g>
<g id="n117" transform="translate(992,3162)"><rect class="p" x="1" y="1" width="97" height="47"/><text class="id" x="2" y="10.5">117</text><text class="nm" x="54" y="13">عناية</text><text class="nm" x="54" y="28.5">بشناق</text></g>
<g id="n118" transform="translate(992,3224)"><rect class="b" x="1" y="1" width="97" height="47"/><text class="id" x="2" y="10.5">118</text><text class="nm" x="54" y="13">??</text><text class="nm" x="54" y="28.5">بشناق</text></g>
<g id="n119" transform="translate(992,3286)"><rect class="b" x="1" y="1" width="97" height="47"/><text class="id" x="2" y="10.5">119</text><text class="nm" x="54" y="13">??</text><text class="nm" x="54" y="28.5">بشناق</text></g>
<g id="n120" transform="translate(744,3348)"><rect class="b" x="1" y="1" width="97" height="47"/><text class="id" x="2" y="10.5">120</text><text class="nm" x="54" y="13">أنور</text><text class="nm" x="54" y="28.5">بشناق</text></g>
<g id="n121" transform="translate(868,3348)"><rect class="pd" x="1" y="1" width="97" height="47"/><text class="id" x="2" y="10.5">121</text><text class="nm" x="54" y="13">سماح</text><text class="nm" x="54" y="28.5">مهنا</text></g>
<g id="n122" transform="translate(992,3348)"><rect class="b" x="1" y="1" width="97" height="47"/><text class="id" x="2" y="10.5">122</text><text class="nm" x="54" y="13">أمين</text><text class="nm" x="54" y="28.5">بشناق</text></g>
<g id="n123" transform="translate(992,3410)"><rect class="p" x="1" y="1" width="97" height="47"/><text class="id" x="2" y="10.5">123</text><text class="nm" x="54" y="13">حنين</text><text class="nm" x="54" y="28.5">بشناق</text></g>
<g id="n124" transform="translate(496,3472)"><rect class="b" x="1" y="1" width="97" height="47"/><text class="id" x="2" y="10.5">124</text><text class="nm" x="54" y="13">رياض</text><text class="nm" x="54" y="28.5">بشناق</text></g>
<g id="n125" transform="translate(620,3472)"><rect class="pd" x="1" y="1" width="97" height="47"/><text class="id" x="2" y="10.5">125</text><text class="nm" x="54" y="13">نادية</text><text class="nm" x="54" y="28.5">بشناق</text></g>
<g id="n126" transform="translate(744,3472)"><rect class="p" x="1" y="1" width="97" height="47"/><text class="id" x="2" y="10.5">126</text><text class="nm" x="54" y="13">ميرنا</text><text class="nm" x="54" y="28.5">بشناق</text></g>
<g id="n127" transform="translate(868,3472)"><rect class="bd" x="1" y="1" width="97" height="47"/><text class="id" x="2" y="10.5">127</text><text class="nm" x="54" y="13">??</text><text class="nm" x="54" y="28.5">??</text></g>
<g id="n128" transform="translate(992,3472)"><rect class="b" x="1" y="1" width="97" height="47"/><text class="id" x="2" y="10.5">128</text><text class="nm" x="54" y="13">رياض</text><text class="nm" x="54" y="28.5">??</text></g>
<g id="n129" transform="translate(992,3534)"><rect class="b" x="1" y="1" width="97" height="47"/><text class="id" x="2" y="10.5">129</text><text class="nm" x="54" y="13">??</text><text class="nm" x="54" y="28.5">??</text></g>
<g id="n130" transform="translate(744,3596)"><rect class="b" x="1" y="1" width="97" height="47"/><text class="id" x="2" y="10.5">130</text><text class="nm" x="54" y="13">ريجالي</text><text class="nm" x="54" y="28.5">بشناق</text></g>
<g id="n131" transform="translate(868,3596)"><rect class="pd" x="1" y="1" width="97" height="47"/><text class="id" x="2" y="10.5">131</text><text class="nm" x="54" y="13">ديما</text><text class="nm" x="54" y="28.5">حسونة</text></g>
<g id="n132" transform="translate(992,3596)"><rect class="b" x="1" y="1" width="97" height="47"/><text class="id" x="2" y="10.5">132</text><text class="nm" x="54" y="13">??</text><text class="nm" x="54" y="28.5">بشناق</text></g>
<g id="n133" transform="translate(744,3658)"><rect class="p" x="1" y="1" width="97" height="47"/><text class="id" x="2" y="10.5">133</text><text class="nm" x="54" y="13">دالية</text><text class="nm" x="54" y="28.5">بشناق</text></g>
<g id="n134" transform="translate(496,3720)"><rect class="b" x="1" y="1" width="97" height="47"/><text class="id" x="2" y="10.5">134</text><text class="nm" x="54" y="13">زياد</text><text class="nm" x="54" y="28.5">بشناق</text></g>
<g id="n135" transform="translate(620,3720)"><rect class="pd" x="1" y="1" width="97" height="47"/><text class="id" x="2" y="10.5">135</text><text class="nm" x="54" y="13">??</text><text class="nm" x="54" y="28.5">??</text></g>
<g id="n136" transform="translate(744,3720)"><rect class="b" x="1" y="1" width="97" height="47"/><text class="id" x="2" y="10.5">136</text><text class="nm" x="54" y="13">أمين</text><text class="nm" x="54" y="28.5">بشناق</text></g>
<g id="n137" transform="translate(744,3782)"><rect class="b" x="1" y="1" width="97" height="47"/><text class="id" x="2" y="10.5">137</text><text class="nm" x="54" y="13">مراد</text><text class="nm" x="54" y="28.5">بشناق</text></g>
<g id="n138" transform="translate(744,3844)"><rect class="b" x="1" y="1" width="97" height="47"/><text class="id" x="2" y="10.5">138</text><text class="nm" x="54" y="13">كمال</text><text class="nm" x="54" y="28.5">بشناق</text></g>
<g id="n139" transform="translate(248,3906)"><rect class="p" x="1" y="1" width="97" height="47"/><text class="id" x="2" y="10.5">139</text><text class="nm" x="54" y="13">وصفية</text><text class="nm" x="54" y="28.5">بشناق</text></g>
<g id="n140" transform="translate(372,3906)"><rect class="bd" x="1" y="1" width="97" height="47"/><text class="id" x="2" y="10.5">140</text><text class="nm" x="54" y="13">صادق</text><text class="nm" x="54" y="28.5">بشناق</text></g>
<g id="n141" transform="translate(496,3906)"><rect class="p" x="1" y="1" width="97" height="47"/><text class="id" x="2" y="10.5">141</text><text class="nm" x="54" y="13">مها</text><text class="nm" x="54" y="28.5">بشناق</text></g>
<g id="n142" transform="translate(620,3906)"><rect class="bd" x="1" y="1" width="97" height="47"/><text class="id" x="2" y="10.5">142</text><text class="nm" x="54" y="13">جميل</text><text class="nm" x="54" y="28.5">مهنا</text></g>
<g id="n143" transform="translate(744,3906)"><rect class="b" x="1" y="1" width="97" height="47"/><text class="id" x="2" y="10.5">143</text><text class="nm" x="54" y="13">علي</text><text class="nm" x="54" y="28.5">مهنا</text></g>
<g id="n144" transform="translate(744,3968)"><rect class="p" x="1" y="1" width="97" height="47"/><text class="id" x="2" y="10.5">144</text><text class="nm" x="54" y="13">راية</text><text class="nm" x="54" y="28.5">مهنا</text></g>
<g id="n145" transform="translate(744,4030)"><rect class="p" x="1" y="1" width="97" height="47"/><text class="id" x="2" y="10.5">145</text><text class="nm" x="54" y="13">زينا</text><text class="nm" x="54" y="28.5">مهنا</text></g>
<g id="n146" transform="translate(744,4092)"><rect class="p" x="1" y="1" width="97" height="47"/><text class="id" x="2" y="10.5">146</text><text class="nm" x="54" y="13">دانا</text><text class="nm" x="54" y="28.5">مهنا</text></g>
<g id="n147" transform="translate(496,4154)"><rect class="p" x="1" y="1" width="97" height="47"/><text class="id" x="2" y="10.5">147</text><text class="nm" x="54" y="13">أميرة</text><text class="nm" x="54" y="28.5">بشناق</text></g>
<g id="n148" transform="translate(496,4216)"><rect class="b" x="1" y="1" width="97" height="47"/><text class="id" x="2" y="10.5">148</text><text class="nm" x="54" y="13">ماهر</text><text class="nm" x="54" y="28.5">بشناق</text></g>
<g id="n149" transform="translate(620,4216)"><rect class="pd" x="1" y="1" width="97" height="47"/><text class="nm" x="58" y="13">روند نمر صالح</text><text class="id" x="2" y="10.5">149</text><text class="nm" x="56" y="28.5">خريم</text><text class="dt" x="56" y="40.5">*1967-01-09</text></g>
<g id="n150" transform="translate(744,4216)"><rect class="b" x="1" y="1" width="97" height="47"/><text class="id" x="2" y="10.5">150</text><text class="nm" x="54" y="13">صادق</text><text class="nm" x="54" y="28.5">بشناق</text></g>
<g id="n151" transform="translate(868,4216)"><rect class="pd" x="1" y="1" width="97" height="47"/><text class="id" x="2" y="10.5">151</text><text class="nm" x="54" y="13">زينا</text><text class="nm" x="54" y="28.5">حجاوي</text></g>
<g id="n152" transform="translate(992,4216)"><rect class="b" x="1" y="1" width="97" height="47"/><text class="id" x="2" y="10.5">152</text><text class="nm" x="54" y="13">ماهر</text><text class="nm" x="54" y="28.5">بشناق</text></g>
<g id="n153" transform="translate(744,4278)"><rect class="p" x="1" y="1" width="97" height="47"/><text class="id" x="2" y="10.5">153</text><text class="nm" x="54" y="13">صفاء</text><text class="nm" x="54" y="28.5">بشناق</text></g>
<g id="n154" transform="translate(496,4340)"><rect class="p" x="1" y="1" width="97" height="47"/><text class="id" x="2" y="10.5">154</text><text class="nm" x="54" y="13">رندة</text><text class="nm" x="54" y="28.5">بشناق</text></g>
<g id="n155" transform="translate(496,4402)"><rect class="p" x="1" y="1" width="97" height="47"/><text class="id" x="2" y="10.5">155</text><text class="nm" x="54" y="13">دلال</text><text class="nm" x="54" y="28.5">بشناق</text></g>
<g id="n156" transform="translate(620,4402)"><rect class="bd" x="1" y="1" width="97" height="47"/><text class="id" x="2" y="10.5">156</text><text class="nm" x="54" y="13">هيثم</text><text class="nm" x="54" y="28.5">شبلي</text></g>
<g id="n157" transform="translate(744,4402)"><rect class="b" x="1" y="1" width="97" height="47"/><text class="id" x="2" y="10.5">157</text><text class="nm" x="54" y="13">توفيق</text><text class="nm" x="54" y="28.5">شبلي</text></g>
<g id="n158" transform="translate(744,4464)"><rect class="b" x="1" y="1" width="97" height="47"/><text class="id" x="2" y="10.5">158</text><text class="nm" x="54" y="13">أحمد</text><text class="nm" x="54" y="28.5">شبلي</text></g>
<g id="n159" transform="translate(744,4526)"><rect class="b" x="1" y="1" width="97" height="47"/><text class="id" x="2" y="10.5">159</text><text class="nm" x="54" y="13">زيد</text><text class="nm" x="54" y="28.5">شبلي</text></g>
<g id="n160" transform="translate(744,4588)"><rect class="b" x="1" y="1" width="97" height="47"/><text class="id" x="2" y="10.5">160</text><text class="nm" x="54" y="13">عمر</text><text class="nm" x="54" y="28.5">شبلي</text></g>
<g id="n161" transform="translate(744,4650)"><rect class="p" x="1" y="1" width="97" height="47"/><text class="id" x="2" y="10.5">161</text><text class="nm" x="54" y="13">رشا</text><text class="nm" x="54" y="28.5">شبلي</text></g>
<g id="n162" transform="translate(496,4712)"><rect class="p" x="1" y="1" width="97" height="47"/><text class="id" x="2" y="10.5">162</text><text class="nm" x="54" y="13">ريم</text><text class="nm" x="54" y="28.5">بشناق</text></g>
</g>
</svg>
